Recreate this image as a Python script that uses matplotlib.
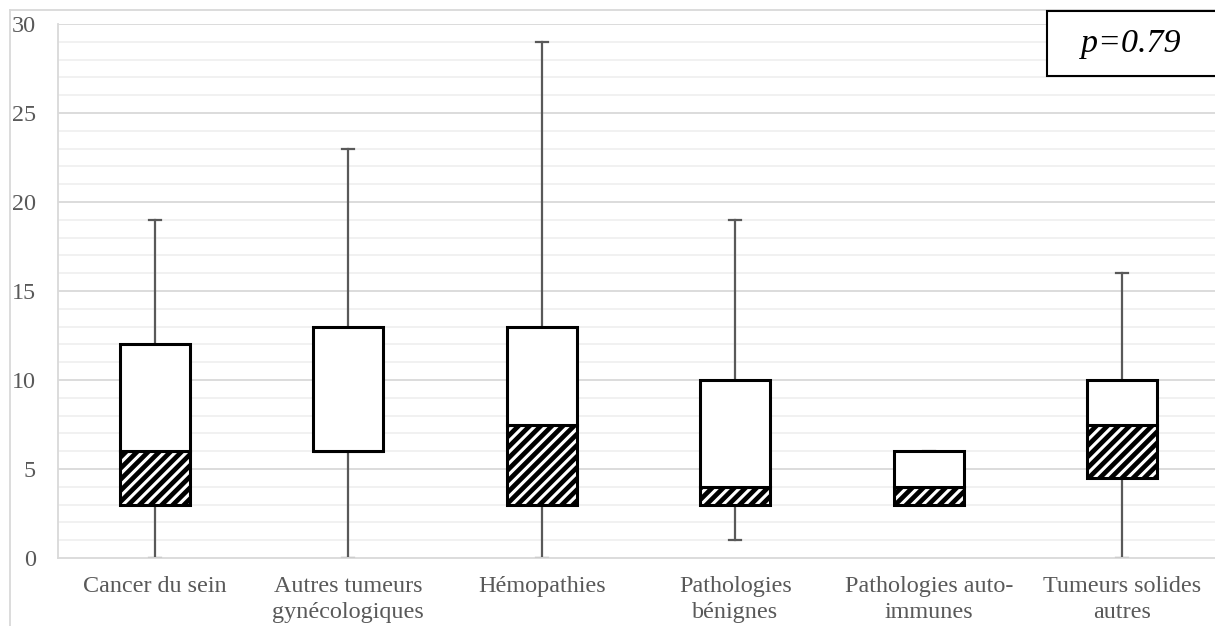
import matplotlib
matplotlib.use("Agg")
import matplotlib.pyplot as plt
from matplotlib.patches import Rectangle
from matplotlib.lines import Line2D

plt.rcParams['font.family'] = ['Liberation Serif', 'DejaVu Serif']
plt.rcParams['hatch.linewidth'] = 3.4

categories = ["Cancer du sein", "Autres tumeurs\ngynécologiques", "Hémopathies",
              "Pathologies\nbénignes", "Pathologies auto-\nimmunes", "Tumeurs solides\nautres"]
mins = [0, 0, 0, 1, 3, 0]
q1 = [3, 6, 3, 3, 3, 4.5]
medians = [6, 6, 7.5, 4, 4, 7.5]
q3 = [12, 13, 13, 10, 6, 10]
maxs = [19, 23, 29, 19, 6, 16]
yticks = [0, 5, 10, 15, 20, 25, 30]
p_label = "p=0.79"

W, H = 1215, 626
fig = plt.figure(figsize=(W / 100, H / 100), dpi=100)
ax_left, ax_right, ax_bot, ax_top = 58, 1215, 558, 24
ax = fig.add_axes([ax_left / W, (H - ax_bot) / H, (ax_right - ax_left) / W, (ax_bot - ax_top) / H])

spacing = 193.5
ax.set_xlim(-0.5, -0.5 + (ax_right - ax_left) / spacing)
ax.set_ylim(0, 30)

# gridlines
for v in range(1, 31):
    if v % 5 == 0:
        ax.axhline(v, color='#d9d9d9', lw=1.3, zorder=0)
    else:
        ax.axhline(v, color='#eeeeee', lw=1.1, zorder=0)

x = list(range(len(categories)))
bw = 0.36
grey = '#595959'
cap = 0.03
for i in x:
    # whiskers
    ax.plot([i, i], [mins[i], q1[i]], color=grey, lw=1.6, zorder=2)
    ax.plot([i, i], [q3[i], maxs[i]], color=grey, lw=1.6, zorder=2)
    ax.plot([i - cap, i + cap], [mins[i], mins[i]], color=grey, lw=1.6, zorder=2)
    ax.plot([i - cap, i + cap], [maxs[i], maxs[i]], color=grey, lw=1.6, zorder=2)

lower = [m - a for m, a in zip(medians, q1)]
upper = [b - m for b, m in zip(q3, medians)]
ax.bar(x, lower, bottom=q1, width=bw, facecolor='white', edgecolor='black',
       hatch='///', lw=2.2, zorder=3)
ax.bar(x, upper, bottom=medians, width=bw, facecolor='white', edgecolor='black',
       lw=2.2, zorder=3)

ax.set_xticks(x)
ax.set_xticklabels(categories, fontsize=17.4, color=grey, linespacing=1.3)
ax.set_yticks(yticks)
ax.set_yticklabels([str(t) for t in yticks], fontsize=17.4, color=grey)
ax.tick_params(axis='both', length=0)
ax.tick_params(axis='y', pad=16)
ax.tick_params(axis='x', pad=13)

for s in ['top', 'right']:
    ax.spines[s].set_visible(False)
ax.spines['left'].set_color('#d9d9d9')
ax.spines['left'].set_linewidth(1.3)
ax.spines['bottom'].set_color('#d9d9d9')
ax.spines['bottom'].set_linewidth(1.3)

# p-value box
fig.patches.append(Rectangle((1047 / W, (H - 76) / H), 200 / W, 65 / H,
                             transform=fig.transFigure, facecolor='white',
                             edgecolor='black', lw=1.5, zorder=5))
fig.text(1131 / W, (H - 44) / H, p_label, fontsize=24.5, style='italic',
         ha='center', va='center', zorder=6)

# outer chart border
fig.lines.append(Line2D([10 / W, 10 / W], [0, (H - 10) / H], transform=fig.transFigure,
                        color='#d9d9d9', lw=1.3))
fig.lines.append(Line2D([10 / W, 1], [(H - 10) / H, (H - 10) / H], transform=fig.transFigure,
                        color='#d9d9d9', lw=1.3))

fig.savefig("out.png", dpi=100)
